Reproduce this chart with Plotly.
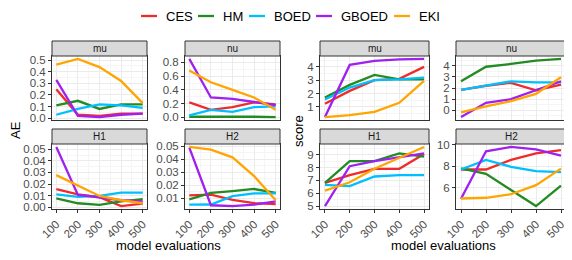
import plotly.graph_objects as go

evals = [100, 200, 300, 400, 500]
methods = ["CES", "HM", "BOED", "GBOED", "EKI"]
colors = {"CES": "#EE2C2C", "HM": "#228B22", "BOED": "#00BFFF", "GBOED": "#A020F0", "EKI": "#FFA500"}

# AE panels
ae_mu = {"CES": [0.25, 0.03, 0.02, 0.04, 0.04], "HM": [0.11, 0.15, 0.08, 0.12, 0.12],
         "BOED": [0.03, 0.08, 0.12, 0.11, 0.09], "GBOED": [0.33, 0.02, 0.01, 0.03, 0.04],
         "EKI": [0.46, 0.51, 0.44, 0.32, 0.13]}
ae_nu = {"CES": [0.22, 0.11, 0.15, 0.22, 0.19], "HM": [0.01, 0.01, 0.02, 0.01, 0.005],
         "BOED": [0.03, 0.11, 0.08, 0.15, 0.16], "GBOED": [0.85, 0.29, 0.27, 0.23, 0.18],
         "EKI": [0.68, 0.51, 0.40, 0.29, 0.11]}
ae_h1 = {"CES": [0.0157, 0.011, 0.0086, 0.001, 0.003], "HM": [0.0077, 0.0034, 0.002, 0.005, 0.007],
         "BOED": [0.011, 0.009, 0.0097, 0.0126, 0.0126], "GBOED": [0.052, 0.0106, 0.0086, 0.006, 0.005],
         "EKI": [0.0277, 0.019, 0.0097, 0.006, 0.0034]}
ae_h2 = {"CES": [0.012, 0.0126, 0.0085, 0.006, 0.0054], "HM": [0.009, 0.014, 0.0154, 0.017, 0.014],
         "BOED": [0.0049, 0.005, 0.0115, 0.0136, 0.0136], "GBOED": [0.049, 0.0044, 0.0038, 0.0049, 0.0074],
         "EKI": [0.0495, 0.0474, 0.0415, 0.027, 0.0082]}
# score panels
sc_mu = {"CES": [1.23, 2.2, 3.0, 3.1, 4.0], "HM": [1.7, 2.65, 3.4, 3.07, 3.07],
         "BOED": [1.55, 2.45, 3.0, 3.07, 3.2], "GBOED": [0.23, 4.15, 4.45, 4.56, 4.6],
         "EKI": [0.23, 0.37, 0.63, 1.3, 2.95]}
sc_nu = {"CES": [1.84, 2.2, 2.46, 1.8, 2.3], "HM": [2.6, 3.9, 4.15, 4.45, 4.6],
         "BOED": [1.84, 2.2, 2.6, 2.5, 2.5], "GBOED": [-0.6, 0.68, 1.0, 1.78, 2.6],
         "EKI": [-0.18, 0.36, 0.83, 1.48, 2.96]}
sc_h1 = {"CES": [6.8, 7.4, 7.9, 7.9, 9.05], "HM": [6.8, 8.5, 8.5, 9.1, 8.85],
         "BOED": [6.65, 6.55, 7.3, 7.4, 7.4], "GBOED": [5.0, 8.1, 8.5, 8.8, 9.1],
         "EKI": [6.2, 6.85, 7.9, 8.75, 9.6]}
sc_h2 = {"CES": [7.7, 7.7, 8.6, 9.2, 9.5], "HM": [7.8, 7.3, 5.8, 4.3, 6.2],
         "BOED": [7.7, 8.6, 7.95, 7.55, 7.45], "GBOED": [4.98, 9.4, 9.8, 9.57, 9.0],
         "EKI": [5.0, 5.07, 5.4, 6.25, 7.78]}

W, H = 572, 260
OFF = 8  # default page body margin of the html page


def px(x):
    return (x - OFF) / W


def py(y):
    return 1 - (y - OFF) / H


# (data, strip label, x0, x1, ytop, ybot, dtick, tickformat, bottom_row)  -- page pixels
panels = [
    (ae_mu, "mu", 52, 147, 56, 120, 0.1, ".1f", False),
    (ae_nu, "nu", 185, 280, 56, 120, 0.2, ".1f", False),
    (ae_h1, "H1", 52, 147, 144, 209, 0.01, ".2f", True),
    (ae_h2, "H2", 185, 280, 144, 209, 0.01, ".2f", True),
    (sc_mu, "mu", 320, 429, 56, 120, 1, "d", False),
    (sc_nu, "nu", 456, 566, 56, 120, 1, "d", False),
    (sc_h1, "H1", 320, 429, 144, 209, 1, "d", True),
    (sc_h2, "H2", 456, 566, 144, 209, 2, "d", True),
]

FONT = "Liberation Sans, Arial, sans-serif"
fig = go.Figure()
layout = {}
shapes = []
annotations = []
for i, (data, lab, x0, x1, yt, yb, dt, tf, bottom) in enumerate(panels, start=1):
    xa = "x" if i == 1 else f"x{i}"
    ya = "y" if i == 1 else f"y{i}"
    for m in methods:
        fig.add_trace(go.Scatter(x=evals, y=data[m], mode="lines", name=m,
                                 line=dict(color=colors[m], width=2.3),
                                 xaxis=xa, yaxis=ya, showlegend=False, hoverinfo="skip"))
    allv = [v for m in methods for v in data[m]]
    lo, hi = min(allv), max(allv)
    pad = (hi - lo) * 0.05
    common = dict(showline=True, mirror=True, linecolor="#333333", linewidth=1,
                  showgrid=True, gridcolor="#EBEBEB", gridwidth=1, zeroline=False,
                  ticklen=3, tickcolor="#333333", automargin=False,
                  tickfont=dict(family=FONT, size=11.5, color="#4D4D4D"))
    layout["xaxis" if i == 1 else f"xaxis{i}"] = dict(
        common, domain=[px(x0), px(x1)], anchor=ya,
        range=[80, 520], dtick=100, tick0=0,
        minor=dict(dtick=50, showgrid=True, gridcolor="#F5F5F5", ticks=""),
        showticklabels=bottom, tickangle=-45,
        ticks="outside" if bottom else "")
    layout["yaxis" if i == 1 else f"yaxis{i}"] = dict(
        common, domain=[py(yb), py(yt)], anchor=xa,
        range=[lo - pad, hi + pad], dtick=dt, tick0=0, tickformat=tf, ticks="outside",
        minor=dict(dtick=dt / 2, showgrid=True, gridcolor="#F5F5F5", ticks=""))
    # strip
    st = yt - 15
    shapes.append(dict(type="rect", xref="paper", yref="paper",
                       x0=px(x0), x1=px(x1), y0=py(yt), y1=py(st),
                       fillcolor="#D9D9D9", line=dict(color="#333333", width=1)))
    annotations.append(dict(text=lab, xref="paper", yref="paper",
                            x=px((x0 + x1) / 2), y=py((st + yt) / 2),
                            showarrow=False, xanchor="center", yanchor="middle",
                            font=dict(family=FONT, size=10, color="#1A1A1A")))

# axis titles
for txt, x, y, ang in [("AE", 15, 130, -90), ("score", 298, 131, -90),
                       ("model evaluations", 168, 245, 0), ("model evaluations", 444, 245, 0)]:
    annotations.append(dict(text=txt, xref="paper", yref="paper", x=px(x), y=py(y),
                            showarrow=False, xanchor="center", yanchor="middle", textangle=ang,
                            font=dict(family=FONT, size=13, color="#000000")))

# legend (keys + labels)
legend_pos = {"CES": 141, "HM": 198, "BOED": 249, "GBOED": 316, "EKI": 394}
ly = 16
for m in methods:
    lx = legend_pos[m]
    shapes.append(dict(type="line", xref="paper", yref="paper",
                       x0=px(lx), x1=px(lx + 16), y0=py(ly), y1=py(ly),
                       line=dict(color=colors[m], width=2.3)))
    annotations.append(dict(text=m, xref="paper", yref="paper", x=px(lx + 23), y=py(ly),
                            showarrow=False, xanchor="left", yanchor="middle",
                            font=dict(family=FONT, size=13, color="#000000")))

fig.update_layout(
    **layout,
    template="none",
    shapes=shapes, annotations=annotations,
    width=W, height=H, margin=dict(l=0, r=0, t=0, b=0, autoexpand=False),
    paper_bgcolor="white", plot_bgcolor="white",
    font=dict(family=FONT, size=13, color="#000000"),
    showlegend=False,
)
fig.write_html("out.html")
